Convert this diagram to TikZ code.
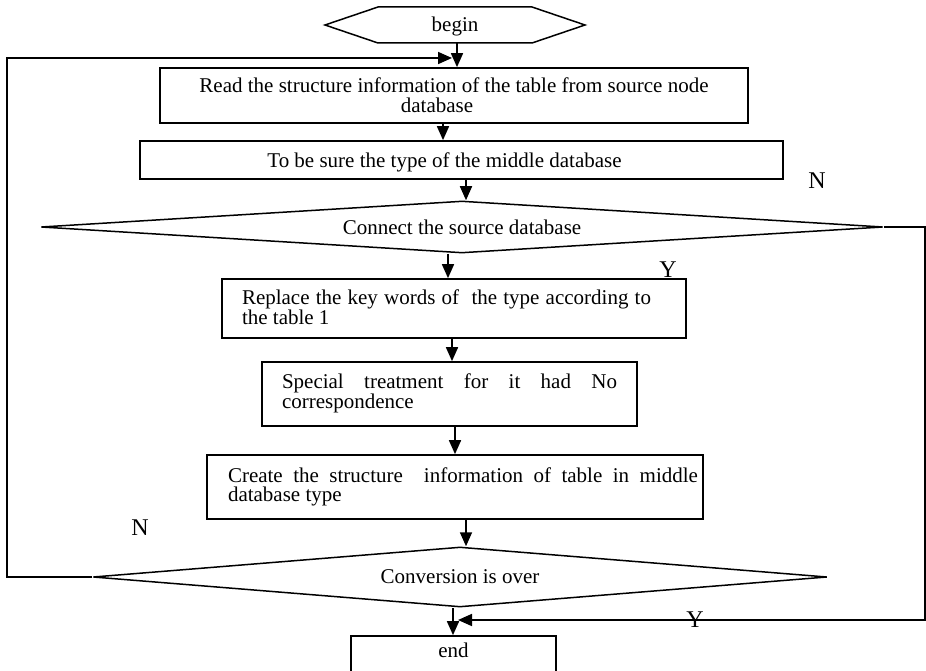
\documentclass[tikz,border=0pt]{standalone}
\usepackage{fontspec}
\setmainfont{Liberation Serif}
\usetikzlibrary{arrows.meta,shapes.geometric}
\begin{document}
\begin{tikzpicture}[x=1pt,y=-1pt,
  line width=1.7pt,
  every node/.style={font=\fontsize{21}{21}\selectfont, inner sep=0pt},
  arr/.style={-{Triangle[length=14pt,width=12pt]}},
  proc/.style={draw, rectangle, line width=1.7pt},
  textblock/.style={align=justify, anchor=west, font=\fontsize{21}{19}\selectfont},
  decision/.style={draw, diamond, line width=1.5pt},
  branch/.style={font=\fontsize{24}{24}\selectfont}
]
\fill[white] (0,0) rectangle (926,671);
\useasboundingbox (0,0) rectangle (926,671);

% start terminal
\draw[line width=1.5pt] (325,25) -- (378,7) -- (532,7) -- (585,25) -- (532,43) -- (378,43) -- cycle;
\node[anchor=base] (begin) at (455,32) {begin};
\coordinate (beginout) at (457,43);

% process boxes
\node[proc, align=center, minimum width=588pt, minimum height=55pt,
      font=\fontsize{21}{20}\selectfont] (read) at (454,95.5)
  {Read the structure information of the table from source node\\database\hspace*{34pt}};
\node[proc, minimum width=643pt, minimum height=38pt, text depth=0pt] (middle) at (461.5,160)
  {To be sure the type of the middle database\hspace*{34pt}};

\node[proc, minimum width=464pt, minimum height=59pt] (replace) at (454,308.5) {};
\node[textblock, text width=409pt] (replacetxt) at ([xshift=20pt,yshift=1pt]replace.west)
  {\tolerance=10000 Replace the key words of\ \ the type according to\linebreak the table 1};

\node[proc, minimum width=375pt, minimum height=64pt] (special) at (449.5,394) {};
\node[textblock, text width=335pt] (specialtxt) at ([xshift=20pt,yshift=1pt]special.west)
  {\tolerance=10000 Special treatment for it had No\linebreak correspondence};

\node[proc, minimum width=496pt, minimum height=64pt] (create) at (455,487) {};
\node[textblock, text width=470pt] (createtxt) at ([xshift=21pt]create.west)
  {\tolerance=10000 Create the structure\ \ information of table in middle\linebreak database type};

\node[proc, minimum width=205pt, minimum height=38pt, text depth=10pt] (finish) at (453.5,655) {end};

% decisions
\node[decision, shape aspect=16, minimum width=842pt, minimum height=52pt] (connect) at (462,227)
  {Connect the source database};
\node[decision, shape aspect=12, minimum width=734pt, minimum height=60pt] (over) at (460,577)
  {Conversion is over};

% branch labels
\node[branch] (n1) at (817,181) {N};
\node[branch] (y1) at (668,270) {Y};
\node[branch] (n2) at (140,528) {N};

% columns of the vertical connectors
\coordinate (c2) at (443,0);
\coordinate (c3) at (466,0);
\coordinate (c4) at (448,0);
\coordinate (c5) at (452,0);
\coordinate (c6) at (455,0);
\coordinate (c7) at (466,0);
\coordinate (c8) at (453,0);

\draw[arr] (beginout) -- (read.north -| beginout);
\draw[arr] (read.south -| c2) -- (middle.north -| c2);
\draw[arr] (middle.south -| c3) -- (connect.north -| c3);
\draw[arr] (connect.south -| c4) -- (replace.north -| c4);
\draw[arr] (replace.south -| c5) -- (special.north -| c5);
\draw[arr] (special.south -| c6) -- (create.north -| c6);
\draw[arr] (create.south -| c7) -- (over.north -| c7);
\draw[arr] (over.south -| c8) -- (finish.north -| c8);

% loop back (N of the conversion test)
\coordinate (leftrail) at (7,0);
\coordinate (looptop) at (452,58);
\draw[arr] (over.west) -- (over.west -| leftrail) -- (leftrail |- looptop) -- (looptop);

% skip to the end (N of the connection test)
\coordinate (rightrail) at (925,0);
\coordinate (loopbot) at (458,620);
\draw[arr] (connect.east) -- (connect.east -| rightrail) -- (rightrail |- loopbot) -- (loopbot);

\node[branch] (y2) at (695,620) {Y};
\end{tikzpicture}
\end{document}
